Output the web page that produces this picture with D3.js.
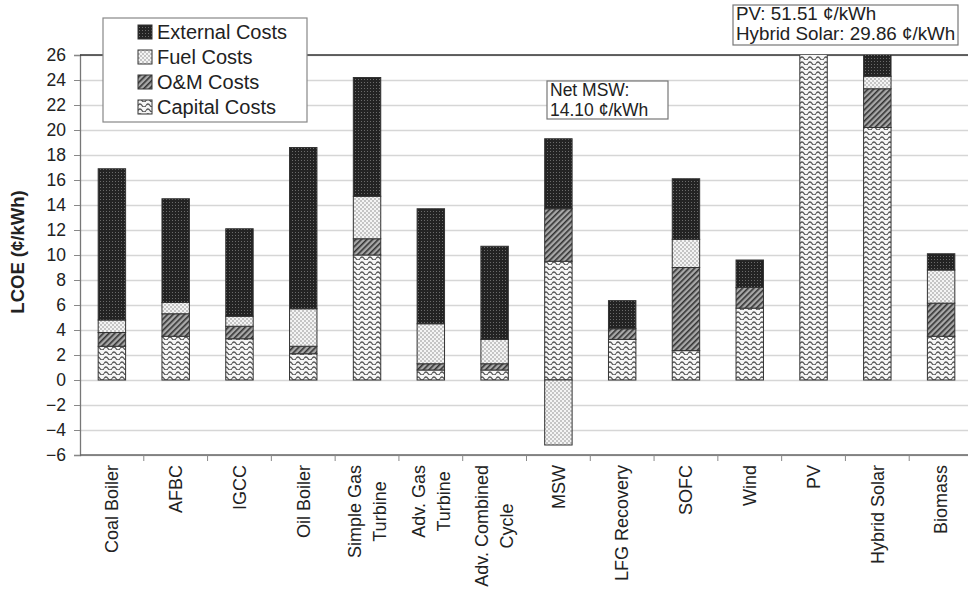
<!DOCTYPE html>
<html lang="en">
<head>
    <meta charset="UTF-8">
    <title>LCOE stacked bars</title>
    <script src="https://d3js.org/d3.v7.min.js"></script>
    <style>
        body { margin: 0; background: #fff; }
        svg { display: block; font-family: "Liberation Sans", Arial, sans-serif; }
    </style>
</head>
<body>
    <svg></svg>
    <script>
        // categories, "|" marks a line break in the axis label
        const categories = ['Coal Boiler', 'AFBC', 'IGCC', 'Oil Boiler', 'Simple Gas|Turbine',
            'Adv. Gas|Turbine', 'Adv. Combined|Cycle', 'MSW', 'LFG Recovery', 'SOFC', 'Wind',
            'PV', 'Hybrid Solar', 'Biomass'];

        // cost components in ¢/kWh
        const capitalCosts  = [2.7, 3.5, 3.3, 2.1, 10.0, 0.8, 0.8, 9.5, 3.25, 2.35, 5.75, 51.51, 20.2, 3.5];
        const omCosts       = [1.1, 1.8, 1.0, 0.6, 1.3, 0.5, 0.5, 4.2, 0.85, 6.65, 1.65, 0, 3.1, 2.65];
        const fuelCosts     = [1.0, 0.9, 0.8, 3.0, 3.4, 3.2, 1.95, -5.2, 0, 2.25, 0, 0, 1.0, 2.65];
        const externalCosts = [12.1, 8.3, 7.0, 12.9, 9.5, 9.2, 7.45, 5.6, 2.25, 4.85, 2.2, 0, 5.56, 1.3];

        const yTicks = d3.range(-6, 27, 2);

        const seriesKeys = ['capital', 'om', 'fuel', 'external'];
        const legendItems = [
            { key: 'external', label: 'External Costs' },
            { key: 'fuel', label: 'Fuel Costs' },
            { key: 'om', label: 'O&M Costs' },
            { key: 'capital', label: 'Capital Costs' }
        ];

        const rows = categories.map((c, i) => ({
            name: c,
            capital: capitalCosts[i],
            om: omCosts[i],
            fuel: fuelCosts[i],
            external: externalCosts[i]
        }));

        const svgWidth = 968, svgHeight = 594;
        const margin = { top: 55, left: 80, bottom: 139 };
        const plotRight = 973;
        const plotBottom = svgHeight - margin.bottom;

        const svg = d3.select('svg')
            .attr('width', svgWidth)
            .attr('height', svgHeight);

        // patterns
        const defs = svg.append('defs');

        const pExt = defs.append('pattern').attr('id', 'p-external')
            .attr('patternUnits', 'userSpaceOnUse').attr('width', 3).attr('height', 3);
        pExt.append('rect').attr('width', 3).attr('height', 3).attr('fill', '#232323');
        pExt.append('rect').attr('x', 1).attr('y', 1).attr('width', 1).attr('height', 1).attr('fill', '#6a6a6a');

        const pFuel = defs.append('pattern').attr('id', 'p-fuel')
            .attr('patternUnits', 'userSpaceOnUse').attr('width', 4).attr('height', 4);
        pFuel.append('rect').attr('width', 4).attr('height', 4).attr('fill', '#f4f4f4');
        pFuel.append('circle').attr('cx', 1).attr('cy', 1).attr('r', 0.8).attr('fill', '#8a8a8a');
        pFuel.append('circle').attr('cx', 3).attr('cy', 3).attr('r', 0.8).attr('fill', '#8a8a8a');

        const pOm = defs.append('pattern').attr('id', 'p-om')
            .attr('patternUnits', 'userSpaceOnUse').attr('width', 4).attr('height', 4)
            .attr('patternTransform', 'rotate(45)');
        pOm.append('rect').attr('width', 4).attr('height', 4).attr('fill', '#a8a8a8');
        pOm.append('rect').attr('width', 1.6).attr('height', 4).attr('fill', '#333');

        const pCap = defs.append('pattern').attr('id', 'p-capital')
            .attr('patternUnits', 'userSpaceOnUse').attr('width', 8).attr('height', 5);
        pCap.append('rect').attr('width', 8).attr('height', 5).attr('fill', '#f6f6f6');
        pCap.append('path').attr('d', 'M0,3.5 Q2,0.5 4,3.5 T8,3.5')
            .attr('fill', 'none').attr('stroke', '#555').attr('stroke-width', 1.3);

        defs.append('clipPath').attr('id', 'plot-clip')
            .append('rect').attr('x', margin.left).attr('y', margin.top)
            .attr('width', plotRight - margin.left).attr('height', plotBottom - margin.top);

        const x = d3.scaleBand()
            .domain(categories)
            .range([margin.left, plotRight])
            .paddingInner(0.57)
            .paddingOuter(0.285);

        const y = d3.scaleLinear()
            .domain([-6, 26])
            .range([plotBottom, margin.top]);

        // gridlines
        svg.append('g')
            .attr('transform', `translate(${margin.left},0)`)
            .call(d3.axisLeft(y).tickValues(yTicks).tickSize(-(plotRight - margin.left)).tickFormat(''))
            .call(g => g.select('.domain').remove())
            .call(g => g.selectAll('line').attr('stroke', '#d6d6d6').attr('stroke-width', 1.5));

        // y axis
        svg.append('g')
            .attr('transform', `translate(${margin.left},0)`)
            .call(d3.axisLeft(y).tickValues(yTicks).tickSize(6).tickPadding(8))
            .call(g => g.select('.domain').attr('stroke', '#777').attr('stroke-width', 1.3))
            .call(g => g.selectAll('line').attr('stroke', '#888'))
            .call(g => g.selectAll('text').attr('font-size', 17.5).attr('fill', '#222')
                .attr('font-family', '"Liberation Sans", Arial, sans-serif'));

        // top border
        svg.append('line')
            .attr('x1', margin.left).attr('x2', plotRight)
            .attr('y1', margin.top).attr('y2', margin.top)
            .attr('stroke', '#333').attr('stroke-width', 1.5);

        // bottom axis with ticks between categories
        svg.append('line')
            .attr('x1', margin.left).attr('x2', plotRight)
            .attr('y1', plotBottom).attr('y2', plotBottom)
            .attr('stroke', '#666').attr('stroke-width', 1.5);

        svg.append('g').selectAll('line')
            .data(d3.range(1, categories.length))
            .join('line')
            .attr('x1', i => margin.left + i * x.step())
            .attr('x2', i => margin.left + i * x.step())
            .attr('y1', plotBottom).attr('y2', plotBottom + 6)
            .attr('stroke', '#888');

        // stacked bars
        const stack = d3.stack().keys(seriesKeys).offset(d3.stackOffsetDiverging);
        const stacked = stack(rows);

        const bars = svg.append('g').attr('clip-path', 'url(#plot-clip)');
        bars.selectAll('g')
            .data(stacked)
            .join('g')
            .attr('fill', d => `url(#p-${d.key})`)
            .selectAll('rect')
            .data(d => d.filter(s => s[1] !== s[0]))
            .join('rect')
            .attr('x', d => x(d.data.name))
            .attr('width', x.bandwidth())
            .attr('y', d => y(Math.max(d[0], d[1])))
            .attr('height', d => Math.abs(y(d[0]) - y(d[1])))
            .attr('stroke', '#333')
            .attr('stroke-width', 1);

        // x labels, rotated
        const labels = svg.append('g').selectAll('g')
            .data(categories)
            .join('g')
            .attr('transform', d => `translate(${x(d) + x.bandwidth() / 2},${plotBottom + 10}) rotate(-90)`);

        labels.each(function(d) {
            const lines = d.split('|');
            const g = d3.select(this);
            const t = g.append('text')
                .attr('font-size', 18)
                .attr('fill', '#222');
            lines.forEach((ln, k) => {
                t.append('tspan')
                    .attr('x', 0)
                    .attr('y', (k - (lines.length - 1) / 2) * 25)
                    .attr('dy', '0.35em')
                    .text(ln);
            });
            if (lines.length === 1) {
                t.attr('text-anchor', 'end');
            } else {
                const maxLen = d3.max(t.selectAll('tspan').nodes(), n => n.getComputedTextLength());
                t.attr('text-anchor', 'middle');
                t.selectAll('tspan').attr('x', -maxLen / 2);
            }
        });

        // y axis title
        svg.append('text')
            .attr('transform', 'translate(24,252) rotate(-90)')
            .attr('text-anchor', 'middle')
            .attr('font-size', 18.5)
            .attr('font-weight', 'bold')
            .attr('fill', '#222')
            .text('LCOE (¢/kWh)');

        // legend
        const legend = svg.append('g');
        legend.append('rect')
            .attr('x', 103).attr('y', 18)
            .attr('width', 204).attr('height', 104)
            .attr('fill', '#fff').attr('stroke', '#888').attr('stroke-width', 1.2);

        const li = legend.selectAll('g.item')
            .data(legendItems)
            .join('g')
            .attr('class', 'item')
            .attr('transform', (d, i) => `translate(138,${32 + i * 25})`);
        li.append('rect')
            .attr('x', 0).attr('y', -7)
            .attr('width', 14).attr('height', 14)
            .attr('fill', d => `url(#p-${d.key})`)
            .attr('stroke', '#333');
        li.append('text')
            .attr('x', 19).attr('dy', '0.36em')
            .attr('font-size', 20).attr('fill', '#222')
            .text(d => d.label);

        // annotations
        function note(bx, by, bw, bh, size, lines) {
            const g = svg.append('g');
            g.append('rect')
                .attr('x', bx).attr('y', by).attr('width', bw).attr('height', bh)
                .attr('fill', '#fff').attr('stroke', '#777').attr('stroke-width', 1.2);
            g.selectAll('text')
                .data(lines)
                .join('text')
                .attr('x', bx + 3)
                .attr('y', (d, i) => by + 15 + i * 20)
                .attr('font-size', size)
                .attr('fill', '#222')
                .text(d => d);
        }
        note(547, 81, 121, 38, 17.5, ['Net MSW:', '14.10 ¢/kWh']);
        note(733, 5, 225, 40, 18.8, ['PV: 51.51 ¢/kWh', 'Hybrid Solar: 29.86 ¢/kWh']);
    </script>
</body>
</html>
